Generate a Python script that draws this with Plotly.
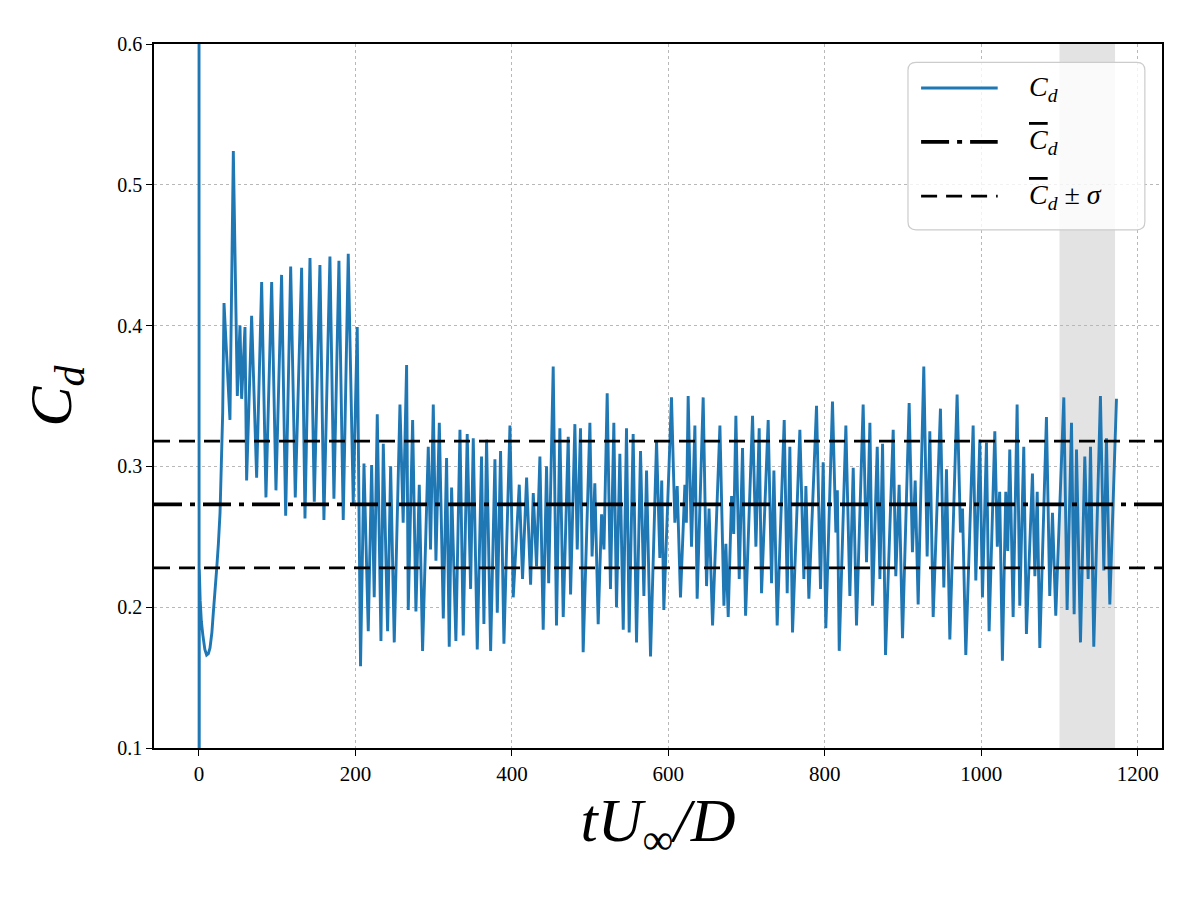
import plotly.graph_objects as go

# ---- data ----
t_start = [0, 0.2, 0.4, 1.5, 3, 5, 7.5, 9.8, 12, 14.1, 16.5, 18.3, 20.5, 22.6, 24.8,
           26.9, 28.5, 30.3, 32, 35.4, 39.6, 43.9, 49,
           52.4, 54.5, 58.8, 60.9, 67.3, 73.7, 80.1, 85.6, 92.9, 98.4, 105.6, 110.8,
           117.2, 123.1, 131.2, 135.5, 141.9, 147.4, 154.6, 159.7, 167.4, 172.5, 178.9,
           184.4, 190.8, 197.2, 202.3]
cd_start = [0.95, -0.1, 0.227, 0.205, 0.190, 0.180, 0.170, 0.166, 0.167, 0.171, 0.182,
            0.196, 0.210, 0.227, 0.245, 0.267, 0.300, 0.338, 0.416,
            0.382, 0.333, 0.524, 0.350, 0.400, 0.348, 0.399, 0.290, 0.407, 0.292, 0.431,
            0.278, 0.431, 0.283, 0.436, 0.265, 0.442, 0.278, 0.441, 0.263, 0.448, 0.275,
            0.443, 0.262, 0.449, 0.277, 0.446, 0.262, 0.451, 0.274, 0.399]

t_turb = [206.5, 210.9, 216.4, 220.7, 224, 227.9, 232.6, 235.6, 241.1, 245, 249.6, 256.9,
          261, 265.4, 267.5, 273.1, 277.3, 281.6, 285.8, 293.1, 296, 299.5, 302.9, 307.2,
          312.3, 316.5, 319.9, 322.9, 328.4, 333.6, 337.8, 342.9, 347.2, 350.6, 355.7,
          361.2, 364.2, 367.6, 372.8, 378.3, 381.3, 385.5, 389.8, 397.5, 401.7, 409.4,
          413.6, 418.8, 423.9, 427.3, 431.5, 435.8, 440, 444.3, 447, 452.8, 457, 461.3,
          465.6, 472, 475, 480.5, 483.5, 487.7, 491.1, 499.7, 502.5, 506, 510.3, 514.6,
          517.7, 521.8, 526, 530.3, 533.7, 538, 542.3, 546.5, 549.9, 555, 559.3, 564.4,
          568.7, 572.1, 577.2, 584.9, 589.1, 591.5, 594.2, 604, 608.3, 611.3, 615.5,
          621.1, 623, 625.3, 629.6, 633.9, 636.8, 644.5, 648.8, 652, 656.5, 665.9, 671,
          673.5, 676.5, 680.8, 683.5, 686.3, 690.6, 694.8, 698.7, 707.6, 711.9, 716.1,
          719.1, 727.6, 731.9, 734.9, 739.1, 748.1, 751.9, 755.3, 758.7, 768.1, 773.2,
          775.8, 779.6, 789.4, 794.5, 797.9, 801.3, 809.8, 814.1, 816, 818.4, 826.9, 832,
          836.3, 840.5, 849, 853.3, 857.6, 861, 867, 870.4, 873.8, 877.6, 887.4, 890.7,
          895, 899.3, 907.8, 912, 915.5, 919.3, 926.5, 930.8, 934.2, 938.5, 947.8, 952.1,
          955.5, 959.8, 969.1, 973.4, 976, 980.2, 989.6, 993, 998.1, 1001.5, 1006.6, 1010,
          1017.3, 1020.5, 1023.5, 1027, 1031.3, 1033.8, 1036.4, 1040.7, 1045.8, 1049.2,
          1054.3, 1057.7, 1065.4, 1068.5, 1071.5, 1074.8, 1083.3, 1087.5, 1091, 1095.2,
          1105.5, 1109.7, 1115.3, 1118.7, 1121.7, 1126.8, 1132.3, 1136.6, 1139.6, 1143.8,
          1152.3, 1156.6, 1160, 1164.3, 1172.8]
cd_turb = [0.158, 0.302, 0.183, 0.301, 0.207, 0.337, 0.176, 0.316, 0.183, 0.300, 0.175, 0.344,
           0.260, 0.372, 0.198, 0.333, 0.197, 0.287, 0.169, 0.314, 0.241, 0.344, 0.233, 0.331,
           0.192, 0.306, 0.172, 0.285, 0.176, 0.326, 0.180, 0.323, 0.213, 0.320, 0.170,
           0.307, 0.188, 0.319, 0.169, 0.305, 0.196, 0.311, 0.174, 0.329, 0.207, 0.287,
           0.220, 0.292, 0.216, 0.281, 0.229, 0.307, 0.184, 0.300, 0.217, 0.371, 0.187, 0.327,
           0.193, 0.321, 0.209, 0.330, 0.241, 0.327, 0.168, 0.331, 0.236, 0.288, 0.188, 0.266,
           0.241, 0.352, 0.213, 0.331, 0.200, 0.309, 0.184, 0.327, 0.182, 0.323, 0.175, 0.311,
           0.208, 0.297, 0.165, 0.318, 0.235, 0.290, 0.198, 0.349, 0.260, 0.286, 0.207,
           0.287, 0.260, 0.350, 0.243, 0.329, 0.206, 0.349, 0.215, 0.270, 0.187, 0.329, 0.201,
           0.245, 0.193, 0.279, 0.252, 0.336, 0.220, 0.313, 0.194, 0.336, 0.243, 0.327,
           0.210, 0.333, 0.217, 0.297, 0.187, 0.333, 0.210, 0.314, 0.182, 0.326, 0.220,
           0.286, 0.206, 0.343, 0.213, 0.303, 0.185, 0.346, 0.253, 0.283, 0.169, 0.329, 0.208,
           0.299, 0.187, 0.344, 0.232, 0.331, 0.201, 0.314, 0.220, 0.316, 0.166, 0.326, 0.222,
           0.287, 0.178, 0.345, 0.239, 0.290, 0.202, 0.371, 0.236, 0.325, 0.193, 0.341, 0.214,
           0.298, 0.177, 0.351, 0.253, 0.270, 0.166, 0.329, 0.219, 0.319, 0.207, 0.317, 0.183,
           0.325, 0.243, 0.282, 0.162, 0.282, 0.240, 0.312, 0.193, 0.344, 0.201,
           0.314, 0.181, 0.295, 0.222, 0.282, 0.171, 0.335, 0.208, 0.267, 0.194,
           0.349, 0.198, 0.331, 0.195, 0.312, 0.175, 0.307, 0.220, 0.314, 0.172,
           0.350, 0.226, 0.320, 0.202, 0.348]

t_all = t_start + t_turb
cd_all = cd_start + cd_turb

cd_mean = 0.273
cd_sigma = 0.045

avg_window = [1100, 1171]          # shaded averaging window
x_range = [-57.5, 1231]
y_range = [0.1, 0.6]
x_ticks = [0, 200, 400, 600, 800, 1000, 1200]
y_ticks = [0.1, 0.2, 0.3, 0.4, 0.5, 0.6]

legend_labels = [
    "<i>C</i><sub><i>d</i></sub>",
    '<span style="text-decoration:overline"><i>C</i></span><sub><i>d</i></sub>',
    '<span style="text-decoration:overline"><i>C</i></span><sub><i>d</i></sub> ± <i>σ</i>',
]

BLUE = "#1f77b4"
FONT = "Liberation Serif"
CD_LINE = dict(color=BLUE, width=2.9)
MEAN_LINE = dict(color="black", width=3.6, dash="28px,8px,5px,8px")
SIG_LINE = dict(color="black", width=2.8, dash="16px,9px")

fig = go.Figure()

fig.add_shape(type="rect", xref="x", yref="paper",
              x0=avg_window[0], x1=avg_window[1], y0=0, y1=1,
              fillcolor="#e3e3e3", line_width=0, layer="below")

fig.add_trace(go.Scatter(x=t_all, y=cd_all, mode="lines", line=CD_LINE,
                         name="Cd", showlegend=False))
fig.add_trace(go.Scatter(x=x_range, y=[cd_mean, cd_mean], mode="lines", line=MEAN_LINE,
                         name="mean", showlegend=False))
for sgn in (1, -1):
    fig.add_trace(go.Scatter(x=x_range, y=[cd_mean + sgn * cd_sigma] * 2, mode="lines",
                             line=SIG_LINE, name="mean ± sigma", showlegend=False))

# ---- legend drawn as a matplotlib-style box ----
lx0, lx1, ly0, ly1, rad = 0.748, 0.983, 0.736, 0.974, 0.008
ry = rad * 1008 / 704
box_path = (f"M {lx0+rad},{ly0} L {lx1-rad},{ly0} Q {lx1},{ly0} {lx1},{ly0+ry} "
            f"L {lx1},{ly1-ry} Q {lx1},{ly1} {lx1-rad},{ly1} L {lx0+rad},{ly1} "
            f"Q {lx0},{ly1} {lx0},{ly1-ry} L {lx0},{ly0+ry} Q {lx0},{ly0} {lx0+rad},{ly0} Z")
fig.add_shape(type="path", xref="paper", yref="paper", path=box_path,
              fillcolor="rgba(255,255,255,0.8)", line=dict(color="#cccccc", width=1.2),
              layer="above")
row_y = [0.9375, 0.861, 0.784]
for yy, ln, lab in zip(row_y, [CD_LINE, MEAN_LINE, SIG_LINE], legend_labels):
    fig.add_shape(type="line", xref="paper", yref="paper", x0=0.761, x1=0.837,
                  y0=yy, y1=yy, line=ln, layer="above")
    fig.add_annotation(xref="paper", yref="paper", x=0.866, y=yy, xanchor="left",
                       yanchor="middle", text=lab, showarrow=False,
                       font=dict(family=FONT, size=28, color="black"))

axis_common = dict(showline=True, linecolor="black", linewidth=1.5, mirror=True,
                   ticks="outside", ticklen=6, tickwidth=1.2, tickcolor="black",
                   showgrid=True, gridcolor="#b8b8b8", griddash="dot", gridwidth=1,
                   zeroline=False)

fig.update_xaxes(range=x_range, tickvals=x_ticks, tickfont=dict(family=FONT, size=21, color="black"),
                 title=dict(text="<i>tU</i><sub>∞</sub><i>/D</i>",
                            font=dict(family=FONT, size=62, color="black"), standoff=10),
                 **axis_common)
fig.update_yaxes(range=y_range, tickvals=y_ticks, tickformat=".1f",
                 tickfont=dict(family=FONT, size=20, color="black"),
                 title=dict(text="<i>C</i><sub><i>d</i></sub>",
                            font=dict(family=FONT, size=60, color="black"), standoff=26),
                 **axis_common)

fig.update_layout(
    width=1180, height=881,
    margin=dict(l=146, r=26, t=36, b=141),
    plot_bgcolor="white", paper_bgcolor="white",
    font=dict(family=FONT, color="black"),
    showlegend=False,
)

fig.write_html("out.html")
